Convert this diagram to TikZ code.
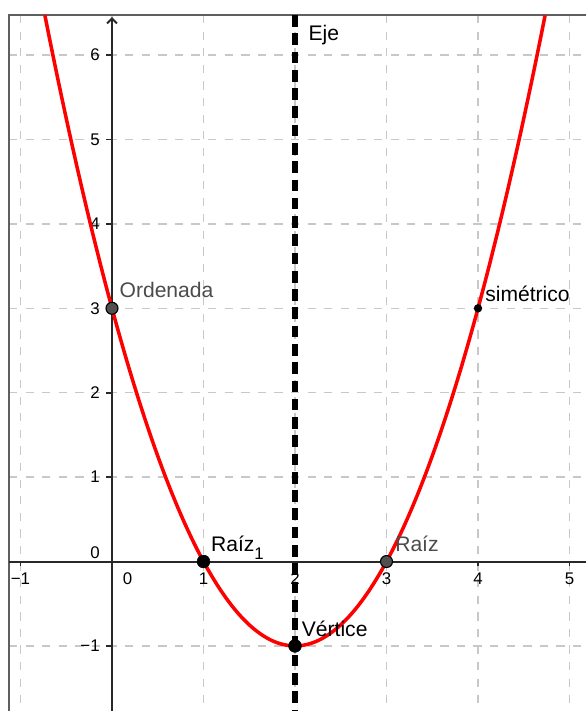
\documentclass[tikz,border=0pt]{standalone}
\usepackage{fontspec}
\setmainfont{Liberation Sans}
\usetikzlibrary{arrows.meta, positioning}
\usepackage{xcolor}
\definecolor{gridgray}{RGB}{200,200,200}
\definecolor{axisgray}{RGB}{40,40,40}
\definecolor{framegray}{RGB}{95,95,95}
\definecolor{labelgray}{RGB}{75,75,75}
\definecolor{dotgray}{RGB}{80,80,80}

\begin{document}
\begin{tikzpicture}[x=2.2875cm, y=2.11cm,
  gridline/.style={gridgray, line width=1.1pt, dash pattern=on 5.9pt off 5.9pt},
  axisline/.style={axisgray, line width=1.4pt},
  ticklbl/.style={font=\fontsize{12}{14}\selectfont, inner sep=0pt},
  lbl/.style={font=\fontsize{15}{18}\selectfont, inner sep=0pt},
  ptblack/.style={circle, fill=black, draw=black, inner sep=0pt, minimum size=0.32cm},
  ptgray/.style={circle, fill=dotgray, draw=black, line width=0.8pt, inner sep=0pt, minimum size=0.3cm},
  ptsmall/.style={circle, fill=black, inner sep=0pt, minimum size=0.21cm}]
  \useasboundingbox (-1.224,-1.771) rectangle (5.180,6.653);

  % grid
  \foreach \i in {-1,...,5}
    \draw[gridline] (\i,6.475) -- (\i,-1.771);
  \foreach \j in {-1,...,6}
    \draw[gridline] (-1.126,\j) -- (5.18,\j);

  % frame
  \draw[framegray, line width=1.2pt] (-1.126,-1.771) -- (-1.126,6.475) -- (5.18,6.475);

  % axes
  \draw[axisline] (-1.126,0) -- (5.18,0);
  \draw[axisline, -{Straight Barb[length=3.5pt,width=7pt]}] (0,-1.771) -- (0,6.45);
  \foreach \i/\t in {-1/−1,1/1,2/2,3/3,4/4,5/5}{
    \draw[axisline] (\i,0) -- ++(0,-3pt);
    \node[ticklbl] (xt\i) at (\i,-0.207) {\t};
  }
  \node[ticklbl] (xt0) at (0.17,-0.207) {0};
  \foreach \j/\t in {-1/−1,1/1,2/2,3/3,4/4,5/5,6/6}{
    \draw[axisline] (0,\j) -- ++(-4pt,0);
    \node[ticklbl, anchor=east] (yt\j) at (-0.131,\j) {\t};
  }
  \node[ticklbl, anchor=east] (yt0) at (-0.131,0.107) {0};

  % parabola
  \draw[red, line width=2.5pt, domain=-0.734:4.734, samples=120, smooth]
    plot (\x, {\x*\x-4*\x+3});

  % axis of symmetry
  \coordinate (ejebot) at (2,-1.771);
  \coordinate (ejetop) at (2,6.475);
  \draw[black, line width=3.8pt, dash pattern=on 8.3pt off 4.7pt] (ejetop) -- (ejebot);
  \node[lbl, anchor=base west] (eje) at (2.146,6.179) {Eje};

  % points
  \node[ptgray] (ordenada) at (0,3) {};
  \node[ptblack] (raiz1) at (1,0) {};
  \node[ptgray] (raiz2) at (3,0) {};
  \node[ptblack] (vertice) at (2,-1) {};
  \node[ptsmall] (simetrico) at (4,3) {};

  % labels
  \node[lbl, labelgray, anchor=base west] (ordenadalbl) at (0.08,3.126) {Ordenada};
  \node[lbl, anchor=base west] (raiz1lbl) at (1.08,0.113)
    {Raíz\raisebox{-0.65ex}{\fontsize{12}{14}\selectfont 1}};
  \node[lbl, labelgray, anchor=base west] (raiz2lbl) at (3.093,0.113) {Raíz};
  \node[lbl, anchor=base west] (verticelbl) at (2.072,-0.883) {Vértice};
  \node[lbl, anchor=base west] (simetricolbl) at (4.077,3.078) {simétrico};
\end{tikzpicture}
\end{document}
